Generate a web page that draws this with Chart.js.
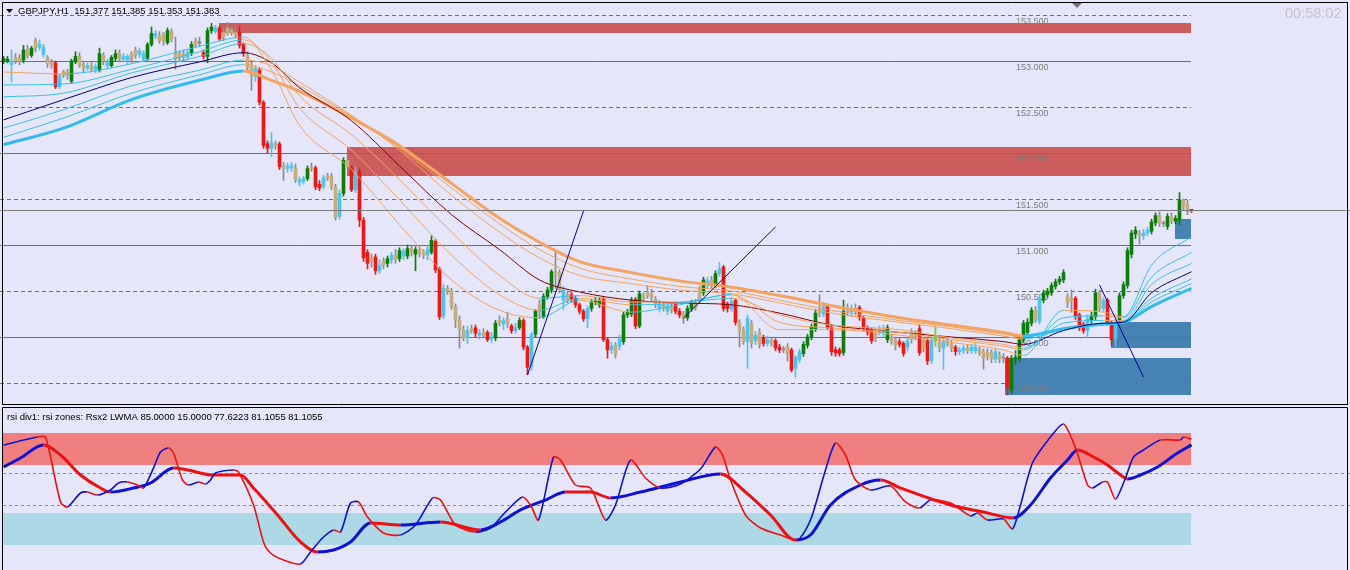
<!DOCTYPE html>
<html>
<head>
<meta charset="utf-8">
<script src="https://cdn.jsdelivr.net/npm/chart.js@4.4.1/dist/chart.umd.min.js"></script>
<style>
  html, body { margin: 0; padding: 0; background: #e6e6fa; }
  #wrap { position: relative; width: 1350px; height: 570px; overflow: hidden; }
  canvas { position: absolute; left: 0; }
  #main { top: 0; }
  #rsi { top: 406px; }
</style>
</head>
<body>
<div id="wrap">
  <canvas id="main" width="1350" height="406"></canvas>
  <canvas id="rsi" width="1350" height="164"></canvas>
</div>
<script>
// GBPJPY H1 candles: [open, high, low, close]
const candles = [
[152.99,153.05,152.97,153.03],[153.00,153.05,152.98,153.02],[152.96,153.12,152.77,153.00],[153.00,153.08,152.97,153.04],[153.03,153.07,152.96,153.00],
[153.01,153.17,152.98,153.12],[153.12,153.17,153.03,153.06],[153.06,153.16,153.04,153.14],[153.14,153.25,153.10,153.22],[153.18,153.23,153.12,153.15],
[153.15,153.18,153.04,153.07],[153.04,153.06,152.93,152.97],[152.98,153.02,152.92,152.96],[152.98,153.00,152.70,152.72],[152.72,152.86,152.70,152.84],
[152.84,152.90,152.82,152.88],[152.88,152.91,152.80,152.84],[152.78,153.02,152.76,153.00],[152.99,153.10,152.97,153.05],[153.05,153.09,152.93,152.95],
[152.96,153.00,152.88,152.92],[152.92,152.98,152.90,152.95],[152.95,152.99,152.88,152.91],[152.91,152.97,152.87,152.94],[152.90,153.14,152.88,153.08],
[153.06,153.09,152.96,153.00],[152.99,153.02,152.92,152.95],[152.95,153.06,152.93,153.04],[153.03,153.12,153.00,153.08],[153.08,153.12,152.99,153.02],
[153.02,153.08,152.99,153.05],[153.05,153.07,152.97,153.01],[153.01,153.10,152.98,153.07],[153.06,153.15,153.03,153.12],[153.11,153.14,153.04,153.07],
[153.08,153.11,152.99,153.02],[153.03,153.20,153.01,153.18],[153.18,153.37,153.16,153.30],[153.30,153.33,153.24,153.27],[153.27,153.32,153.19,153.22],
[153.22,153.31,153.17,153.29],[153.20,153.36,153.18,153.33],[153.32,153.35,153.21,153.24],[153.10,153.26,152.91,153.02],[153.03,153.11,153.00,153.08],
[153.08,153.12,153.00,153.04],[153.04,153.12,153.01,153.09],[153.09,153.21,153.06,153.18],[153.18,153.25,153.15,153.22],[153.21,153.26,153.16,153.19],
[153.09,153.12,153.02,153.05],[153.05,153.36,152.98,153.33],[153.33,153.41,153.30,153.37],[153.36,153.39,153.30,153.32],[153.36,153.38,153.22,153.24],
[153.26,153.36,153.22,153.31],[153.30,153.42,153.28,153.36],[153.34,153.38,153.28,153.31],[153.31,153.36,153.25,153.28],[153.31,153.38,153.14,153.17],
[153.18,153.20,153.05,153.08],[153.06,153.10,152.88,152.93],[152.96,152.99,152.68,152.83],[152.83,152.95,152.78,152.92],[152.90,152.93,152.52,152.55],
[152.55,152.57,152.05,152.08],[152.10,152.13,152.00,152.05],[152.05,152.22,151.96,152.11],[152.10,152.13,152.04,152.08],[152.10,152.12,151.82,151.85],
[151.86,151.90,151.70,151.83],[151.83,151.89,151.79,151.86],[151.86,151.90,151.80,151.84],[151.84,151.88,151.68,151.71],[151.71,151.74,151.64,151.68],
[151.69,151.75,151.66,151.72],[151.72,151.86,151.70,151.83],[151.83,151.89,151.80,151.84],[151.84,151.86,151.60,151.63],[151.66,151.70,151.59,151.62],
[151.64,151.76,151.61,151.73],[151.73,151.78,151.70,151.75],[151.75,151.78,151.60,151.63],[151.63,151.66,151.27,151.30],[151.31,151.60,151.28,151.56],
[151.56,151.95,151.53,151.92],[151.92,151.97,151.82,151.85],[151.84,151.86,151.58,151.60],[151.60,151.85,151.57,151.80],[151.80,151.83,151.20,151.27],
[151.27,151.30,150.82,150.86],[150.92,150.95,150.74,150.80],[150.82,150.90,150.76,150.87],[150.87,150.90,150.68,150.72],[150.72,150.84,150.69,150.78],
[150.78,150.86,150.74,150.83],[150.80,150.88,150.76,150.85],[150.84,150.92,150.80,150.89],[150.89,150.95,150.80,150.84],[150.85,150.97,150.82,150.94],
[150.93,150.96,150.84,150.88],[150.88,151.00,150.85,150.96],[150.96,151.00,150.88,150.92],[150.90,150.98,150.72,150.95],[150.94,150.98,150.87,150.91],
[150.92,150.95,150.85,150.89],[150.89,150.99,150.84,150.95],[150.92,151.10,150.90,151.05],[151.04,151.06,150.70,150.73],[150.74,150.76,150.19,150.22],
[150.23,150.57,150.20,150.53],[150.53,150.56,150.46,150.50],[150.50,150.53,150.30,150.33],[150.33,150.36,150.10,150.18],[150.18,150.23,149.88,150.08],
[150.08,150.12,149.96,149.99],[149.99,150.12,149.93,150.07],[150.07,150.13,150.04,150.09],[150.10,150.13,150.00,150.04],[150.04,150.08,149.98,150.02],
[150.02,150.09,149.99,150.05],[150.05,150.07,149.95,149.97],[149.98,150.05,149.94,150.00],[149.99,150.18,149.96,150.15],[150.15,150.23,150.12,150.18],
[150.18,150.21,150.08,150.14],[150.14,150.27,150.10,150.20],[150.12,150.14,150.04,150.07],[150.07,150.15,150.04,150.10],[150.10,150.21,150.08,150.18],
[150.18,150.20,149.86,149.89],[149.89,149.91,149.59,149.67],[149.68,150.05,149.64,150.03],[150.03,150.30,150.00,150.28],[150.28,150.40,150.20,150.35],
[150.22,150.47,150.20,150.44],[150.44,150.54,150.41,150.51],[150.51,150.73,150.48,150.71],[150.71,150.93,150.53,150.70],[150.70,150.73,150.48,150.51],
[150.51,150.55,150.30,150.40],[150.40,150.50,150.37,150.46],[150.46,150.49,150.38,150.41],[150.42,150.44,150.32,150.35],[150.35,150.37,150.25,150.28],
[150.28,150.30,150.17,150.20],[150.20,150.34,150.10,150.31],[150.31,150.41,150.28,150.38],[150.38,150.43,150.35,150.39],[150.35,150.43,150.32,150.40],
[150.42,150.44,149.95,149.97],[149.97,149.99,149.77,149.86],[149.86,149.94,149.82,149.90],[149.91,149.94,149.77,149.81],[149.90,150.02,149.86,149.98],
[149.95,150.27,149.92,150.24],[150.24,150.30,150.21,150.27],[150.25,150.43,150.22,150.40],[150.41,150.43,150.09,150.12],[150.12,150.50,150.10,150.47],
[150.45,150.48,150.38,150.42],[150.45,150.56,150.42,150.49],[150.47,150.52,150.39,150.43],[150.41,150.44,150.32,150.36],[150.36,150.40,150.27,150.31],
[150.31,150.38,150.28,150.34],[150.34,150.38,150.24,150.28],[150.29,150.37,150.26,150.33],[150.36,150.38,150.25,150.28],[150.28,150.31,150.21,150.24],
[150.25,150.28,150.15,150.20],[150.21,150.34,150.18,150.31],[150.31,150.40,150.28,150.37],[150.37,150.41,150.29,150.32],[150.40,150.55,150.38,150.51],
[150.48,150.65,150.45,150.62],[150.61,150.65,150.53,150.57],[150.57,150.66,150.53,150.62],[150.57,150.72,150.54,150.69],[150.69,150.81,150.66,150.74],
[150.76,150.78,150.28,150.31],[150.36,150.38,150.27,150.31],[150.31,150.43,150.28,150.39],[150.40,150.42,150.13,150.16],[150.16,150.19,149.89,150.07],
[150.08,150.11,149.92,149.95],[149.95,150.24,149.66,150.20],[150.15,150.18,149.88,149.93],[149.96,150.06,149.92,150.02],[150.05,150.09,149.88,149.92],
[149.99,150.02,149.90,149.93],[149.93,150.01,149.90,149.97],[149.97,150.00,149.90,149.94],[149.96,149.98,149.85,149.88],[149.89,149.92,149.83,149.86],
[149.86,149.90,149.83,149.87],[149.90,149.93,149.74,149.82],[149.86,149.88,149.62,149.64],[149.66,149.80,149.56,149.78],[149.75,149.87,149.72,149.84],
[149.82,149.95,149.79,149.92],[149.91,150.03,149.88,150.00],[150.00,150.14,149.97,150.11],[150.09,150.30,150.06,150.26],[150.26,150.46,150.22,150.30],
[150.25,150.38,150.22,150.33],[150.33,150.36,150.08,150.11],[150.11,150.13,149.80,149.84],[149.86,149.89,149.79,149.83],[149.86,149.88,149.79,149.82],
[149.83,150.40,149.80,150.28],[150.28,150.36,150.23,150.27],[150.27,150.35,150.22,150.31],[150.31,150.36,150.24,150.28],[150.32,150.34,150.18,150.21],
[150.21,150.23,150.07,150.10],[150.10,150.12,150.02,150.05],[150.08,150.10,149.93,149.96],[149.99,150.09,149.95,150.06],[150.05,150.12,150.02,150.08],
[150.08,150.13,150.00,150.04],[149.97,150.13,149.94,150.10],[150.00,150.03,149.92,149.96],[149.97,150.00,149.86,149.91],[149.95,149.98,149.89,149.92],
[149.93,149.95,149.79,149.82],[149.89,149.99,149.85,149.96],[149.97,150.09,149.93,150.06],[150.04,150.07,149.97,150.01],[150.09,150.13,149.80,149.83],
[149.87,150.00,149.84,149.97],[149.96,149.98,149.70,149.74],[149.74,149.99,149.71,149.96],[149.96,150.12,149.90,150.00],[149.96,149.99,149.84,149.88],
[149.88,149.98,149.65,149.95],[149.94,150.00,149.90,149.97],[149.93,149.96,149.84,149.88],[149.89,149.91,149.80,149.84],[149.84,149.89,149.81,149.86],
[149.85,149.91,149.82,149.88],[149.88,149.91,149.82,149.85],[149.85,149.92,149.82,149.89],[149.89,149.93,149.82,149.85],[149.86,149.89,149.80,149.83],
[149.84,149.87,149.65,149.77],[149.79,149.87,149.75,149.83],[149.83,149.86,149.72,149.76],[149.76,149.88,149.72,149.84],[149.80,149.84,149.72,149.76],
[149.77,149.82,149.72,149.78],[149.77,149.79,149.37,149.45],[149.42,149.80,149.38,149.77],[149.77,149.85,149.70,149.78],[149.76,150.00,149.73,149.97],
[149.97,150.18,149.94,150.15],[150.05,150.20,150.02,150.16],[150.15,150.32,150.12,150.29],[150.29,150.33,150.16,150.19],[150.17,150.46,150.14,150.42],
[150.40,150.51,150.37,150.48],[150.46,150.53,150.43,150.50],[150.48,150.59,150.45,150.56],[150.55,150.63,150.52,150.60],[150.60,150.66,150.57,150.63],
[150.62,150.73,150.59,150.70],[150.44,150.47,150.32,150.37],[150.40,150.51,150.27,150.42],[150.42,150.44,150.19,150.22],[150.24,150.26,150.07,150.10],
[150.14,150.16,150.04,150.07],[150.07,150.24,149.99,150.20],[150.18,150.27,150.15,150.23],[150.22,150.52,150.19,150.48],[150.48,150.51,150.28,150.31],
[150.31,150.43,150.28,150.40],[150.40,150.42,150.13,150.16],[150.16,150.18,149.91,149.97],[149.98,150.19,149.89,150.16],[150.15,150.48,150.12,150.45],
[150.45,150.60,150.42,150.57],[150.56,150.97,150.53,150.94],[150.90,151.16,150.86,151.13],[151.12,151.20,151.07,151.16],[151.12,151.16,151.01,151.10],
[151.10,151.17,151.06,151.13],[151.13,151.19,151.10,151.16],[151.15,151.28,151.12,151.25],[151.24,151.35,151.21,151.32],[151.32,151.36,151.20,151.24],
[151.24,151.26,151.20,151.23],[151.20,151.34,151.17,151.31],[151.31,151.35,151.23,151.26],[151.26,151.32,151.23,151.29],[151.27,151.57,151.22,151.49],
[151.49,151.50,151.38,151.42],[151.44,151.49,151.33,151.36],[151.377,151.385,151.353,151.383]
];

// candle colour class: G strong up, R strong down, T neutral, C light, L lime, Y doji
const kinds = (
  "GGCTTGTGTCCTTRCTTGGTTCTCGTCGGTCC" +
  "TTCCGGCTTGTTTTCGTYRGGCRTTTTRR" +
  "TTCRRRCTRTCCTCCGTRRCTTTCGTRCR" +
  "RRTRCTGCTGCGTGT" +
  "TCGRRCTTTTTCTRCTRCGTCTRCGRRCGTGGGTT" +
  "CTRRRRCGGGRRCTCGGGRGTTTTCTCTRRTGGTTGCTGCRRCRTTCTCTRCTRR" +
  "YTRCCGGGGTCRRRRGTCTRRRRTCCGTTRRCTTRTRCLTCTTRCCTCCTTTTCTY" +
  "RGGGGGGTCGGGGGGTTRRRCGGTCRRCGGGGGTCCGGTYGTGGTTR"
).split("");

// moving-average ribbon, sampled at these bar indices
const maIdx = [0, 15, 32, 49, 60, 67, 74, 87, 99, 112, 124, 134, 144, 157, 169, 182, 194, 207, 224, 237, 250, 255, 265, 275, 280, 287, 297];
const maFast1 = [152.88, 152.86, 152.97, 153.16, 153.26, 152.90, 152.30, 151.82, 151.22, 150.62, 150.29, 150.21, 150.40, 150.27, 150.35, 150.46, 150.08, 150.08, 150.02, 149.94, 149.86, 149.80, 150.29, 150.27, 150.22, 150.78, 151.09];
const maFast2 = [152.74, 152.75, 152.91, 153.10, 153.23, 152.99, 152.49, 152.03, 151.49, 150.89, 150.46, 150.29, 150.42, 150.35, 150.37, 150.46, 150.16, 150.10, 150.05, 149.97, 149.90, 149.86, 150.21, 150.23, 150.21, 150.65, 150.92];
const maFast3 = [152.61, 152.65, 152.87, 153.05, 153.19, 153.03, 152.62, 152.20, 151.71, 151.14, 150.67, 150.42, 150.45, 150.38, 150.38, 150.42, 150.24, 150.13, 150.08, 149.99, 149.92, 149.88, 150.15, 150.18, 150.18, 150.57, 150.80];
const maMid = [152.36, 152.58, 152.82, 152.99, 153.09, 152.98, 152.71, 152.35, 151.86, 151.33, 150.95, 150.62, 150.49, 150.40, 150.37, 150.35, 150.26, 150.13, 150.05, 150.00, 149.95, 149.92, 150.07, 150.15, 150.16, 150.48, 150.71];
const maSlow1 = [152.27, 152.47, 152.73, 152.90, 153.01, 152.95, 152.77, 152.41, 152.03, 151.54, 151.14, 150.86, 150.67, 150.58, 150.51, 150.47, 150.37, 150.26, 150.16, 150.09, 150.01, 149.98, 150.08, 150.13, 150.16, 150.42, 150.63];
const maSlow2 = [152.17, 152.38, 152.65, 152.85, 152.96, 152.88, 152.73, 152.40, 152.05, 151.62, 151.23, 150.95, 150.75, 150.63, 150.55, 150.50, 150.40, 150.29, 150.18, 150.11, 150.03, 150.00, 150.09, 150.14, 150.16, 150.38, 150.58];
const maTrend = [152.09, 152.27, 152.58, 152.79, 152.89, 152.79, 152.67, 152.38, 152.08, 151.67, 151.29, 151.03, 150.82, 150.70, 150.61, 150.54, 150.45, 150.34, 150.21, 150.13, 150.05, 150.01, 150.09, 150.14, 150.16, 150.33, 150.53];

const priceLevels = [153.5, 153.0, 152.5, 152.0, 151.5, 151.0, 150.5, 150.0, 149.5];
const lastPrice = 151.383;

// supply / demand boxes: bar index range and price range
const zones = [
  { from: 53.9, to: 296.9, top: 153.41, bottom: 153.30, side: "sell" },
  { from: 85.9, to: 296.9, top: 152.065, bottom: 151.75, side: "sell" },
  { from: 292.9, to: 296.9, top: 151.28, bottom: 151.07, side: "buy" },
  { from: 276.9, to: 296.9, top: 150.16, bottom: 149.88, side: "buy" },
  { from: 250.4, to: 296.9, top: 149.77, bottom: 149.37, side: "buy" }
];

// hand-drawn trend lines [idx, price, idx, price]
const trendLines = [
  [131, 149.587, 145, 151.370],
  [170, 150.206, 193, 151.196],
  [274, 150.565, 285, 149.565]
];

// rsi panel: [bar index, value]
const rsiFast = [
  [0,77.5],[8.5,82.5],[10.5,82.5],[14.25,41.9],[16,38.75],[19.25,47.5],[21,48.1],[23.5,46.25],[26.75,49.4],[28.75,53.75],
  [31,54.4],[33.5,52.5],[35,50.6],[37.5,63.1],[39.25,73.1],[41.25,75.6],[42.5,72.5],[44.75,55.6],[46.25,52.5],[48.75,54.4],
  [50.5,53.1],[51.75,55.6],[53,60],[57.5,61.9],[58.75,60.6],[62.5,40],[65,16.9],[66.75,10],[70,5.6],[74.25,3.1],
  [76.75,10.6],[79.75,19.4],[82.5,24.4],[84.25,23.1],[86.75,41.25],[88.75,41.9],[91,32.5],[95,22.5],[99.25,21.25],[103,27.5],
  [107.25,44.4],[109.25,43.1],[113,27.5],[118,23.1],[121.75,25.6],[125.5,35.6],[129.75,45],[131.75,40],[133.75,30.6],[137.5,70],
  [139.25,68.1],[143,52.5],[146.75,50.6],[150.5,30.6],[153,40],[156.75,68.1],[160.5,56.9],[164.25,50.6],[169.25,53.1],[174.25,62.5],
  [178,76.25],[179.75,71.25],[181.75,55.6],[185.5,33.75],[189.25,25.6],[194.25,21.25],[198.5,18.1],[201.75,30.6],[205.5,61.9],[208,78.75],
  [210.5,71.25],[213,55.6],[216.75,49.4],[221.75,51.9],[225.5,41.9],[229,38.1],[231.75,43.1],[236.75,41.25],[241.75,33.1],[243.5,35],
  [246,30.6],[250,31.25],[252.25,25],[254.25,40],[257.25,66.25],[261.75,82.5],[265,90.6],[268,75.6],[271,52.5],[272.25,50.6],
  [274.75,54.4],[276,54.4],[278,43.75],[280.5,56.9],[282.5,70],[285,74.4],[289.25,80.6],[294.25,80.6],[295,82.5],[297,81.1]
];
const rsiSlow = [
  [0,63.75],[4.25,69.4],[10,77.5],[14.25,71.25],[19.25,58.75],[24.25,50.6],[26.75,48.1],[32.5,50.6],[36.75,53.75],[42.5,63.1],
  [46,61.9],[52.5,58.75],[59.25,58.75],[62.5,50.6],[68.5,33.75],[74.25,16.9],[78.5,10.6],[82.5,11.9],[86.75,16.9],[91.75,28.75],
  [99.25,27.5],[109.25,29.4],[119.25,24.4],[124.25,29.4],[129.25,36.9],[135.5,43.1],[140.5,48.1],[146.75,48.1],[151.75,44.4],[159.25,48.1],
  [169.25,54.4],[179.25,59.4],[185.5,48.1],[191.75,33.75],[198,18.1],[201.75,21.25],[206.75,40],[214.25,52.5],[219.25,55.6],[224.25,50.6],
  [236.75,40],[245,35.6],[252.5,31.9],[256.75,40],[261.75,56.9],[266,68.1],[268.5,74.4],[272.5,70],[276,65],[279.25,58.75],
  [281,56.25],[284.25,58.75],[288.5,63.75],[293.5,72.5],[297,77.6]
];
const rsiLevels = [60, 40];
const rsiZones = [[65, 85, "hi"], [15, 35, "lo"]];

const BG = "#e6e6fa";
const bodyColor = { G: "#0a7d0a", R: "#f01616", T: "#c4ac80", C: "#4ec4ec", L: "#62d22e", Y: "#8c8c8c" };
const wickColor = { G: "#0a7d0a", R: "#f01616", T: "#8c8c8c", C: "#4ec4ec", L: "#62d22e", Y: "#8c8c8c" };

Chart.defaults.font.family = "'Liberation Sans', Arial, sans-serif";

function slopeColor(up, down) {
  return ctx => ctx.p1.parsed.y > ctx.p0.parsed.y ? up : down;
}

function maDataset(values, up, down, width) {
  return {
    type: "line",
    data: values.map((v, k) => ({ x: maIdx[k], y: v })),
    borderWidth: width,
    borderColor: down,
    segment: { borderColor: slopeColor(up, down) },
    pointRadius: 0,
    cubicInterpolationMode: "monotone",
    order: 0
  };
}

function drawFrame(ctx, w, top, bottom) {
  ctx.strokeStyle = "#000";
  ctx.lineWidth = 1;
  ctx.setLineDash([]);
  ctx.beginPath();
  ctx.moveTo(2.5, bottom); ctx.lineTo(2.5, top); ctx.lineTo(1347.5, top); ctx.lineTo(1347.5, bottom);
  ctx.stroke();
}

const mainDecor = {
  id: "mainDecor",
  beforeDraw(chart) {
    const { ctx, width, height } = chart;
    ctx.save();
    ctx.fillStyle = BG;
    ctx.fillRect(0, 0, width, height);
    ctx.restore();
  },
  beforeDatasetsDraw(chart) {
    const { ctx, scales: { x, y } } = chart;
    ctx.save();
    zones.forEach(z => {
      const x0 = Math.round(x.getPixelForValue(z.from));
      const x1 = Math.round(x.getPixelForValue(z.to));
      const y0 = Math.round(y.getPixelForValue(z.top));
      const y1 = Math.round(y.getPixelForValue(z.bottom));
      ctx.fillStyle = z.side === "sell" ? "#cd5c5c" : "#4682b4";
      ctx.fillRect(x0, y0, x1 - x0, y1 - y0);
    });
    const xEnd = Math.round(x.getPixelForValue(296.9));
    ctx.lineWidth = 1;
    ctx.font = "9px 'Liberation Sans', Arial, sans-serif";
    priceLevels.forEach(p => {
      const py = Math.round(y.getPixelForValue(p)) + 0.5;
      const whole = Math.abs(p - Math.round(p)) < 1e-6;
      ctx.strokeStyle = "#6f6f6f";
      ctx.setLineDash(whole ? [] : [4, 3]);
      ctx.beginPath(); ctx.moveTo(0, py); ctx.lineTo(xEnd, py); ctx.stroke();
      ctx.fillStyle = "#7e7e7e";
      ctx.fillText(p.toFixed(3), 1016, py + 8.5);
    });
    ctx.restore();
  },
  afterDatasetsDraw(chart) {
    const { ctx, width, scales: { x, y } } = chart;
    ctx.save();
    ctx.lineWidth = 1;
    ctx.setLineDash([]);
    // current bid
    const py = Math.round(y.getPixelForValue(lastPrice)) + 0.5;
    ctx.strokeStyle = "#7a7a7a";
    ctx.beginPath(); ctx.moveTo(0, py); ctx.lineTo(width, py); ctx.stroke();

    ctx.strokeStyle = "#0000a8";
    trendLines.forEach(t => {
      ctx.beginPath();
      ctx.moveTo(x.getPixelForValue(t[0]), y.getPixelForValue(t[1]));
      ctx.lineTo(x.getPixelForValue(t[2]), y.getPixelForValue(t[3]));
      ctx.stroke();
    });

    drawFrame(ctx, width, 2.5, 404.5);
    ctx.beginPath(); ctx.moveTo(2, 404.5); ctx.lineTo(1348, 404.5); ctx.stroke();

    // header
    ctx.fillStyle = "#000";
    ctx.beginPath(); ctx.moveTo(6, 9); ctx.lineTo(13, 9); ctx.lineTo(9.5, 13); ctx.closePath(); ctx.fill();
    ctx.font = "9.5px 'Liberation Sans', Arial, sans-serif";
    ctx.fillText("GBPJPY,H1  151.377 151.385 151.353 151.383", 18, 14);
    ctx.fillStyle = "#707070";
    ctx.beginPath(); ctx.moveTo(1072, 3); ctx.lineTo(1082, 3); ctx.lineTo(1077, 8); ctx.closePath(); ctx.fill();
    ctx.fillStyle = "#c4c4cc";
    ctx.font = "14.5px 'Liberation Sans', Arial, sans-serif";
    ctx.fillText("00:58:02", 1285, 18);
    ctx.restore();
  }
};

const rsiDecor = {
  id: "rsiDecor",
  beforeDraw(chart) {
    const { ctx, width, height } = chart;
    ctx.save();
    ctx.fillStyle = BG;
    ctx.fillRect(0, 0, width, height);
    ctx.restore();
  },
  beforeDatasetsDraw(chart) {
    const { ctx, width, scales: { x, y } } = chart;
    ctx.save();
    const x0 = 3;
    const x1 = Math.round(x.getPixelForValue(296.9));
    rsiZones.forEach(([lo, hi, kind]) => {
      const y0 = Math.round(y.getPixelForValue(hi));
      const y1 = Math.round(y.getPixelForValue(lo));
      ctx.fillStyle = kind === "hi" ? "#f08080" : "#add8e6";
      ctx.fillRect(x0, y0, x1 - x0, y1 - y0);
    });
    ctx.strokeStyle = "#3aa8d8";
    ctx.lineWidth = 1;
    ctx.setLineDash([3, 3]);
    rsiLevels.forEach(v => {
      const py = Math.round(y.getPixelForValue(v)) + 0.5;
      ctx.beginPath(); ctx.moveTo(3, py); ctx.lineTo(width, py); ctx.stroke();
    });
    ctx.restore();
  },
  afterDatasetsDraw(chart) {
    const { ctx, width, height } = chart;
    ctx.save();
    drawFrame(ctx, width, 1.5, height);
    ctx.fillStyle = "#000";
    ctx.font = "9.5px 'Liberation Sans', Arial, sans-serif";
    ctx.fillText("rsi div1: rsi zones: Rsx2 LWMA 85.0000 15.0000 77.6223 81.1055 81.1055", 7, 14);
    ctx.restore();
  }
};

const xRange = { type: "linear", min: -0.875, max: 336.625, display: false, offset: false };

new Chart(document.getElementById("main"), {
  type: "bar",
  data: {
    datasets: [
      maDataset(maFast1, "#38c0ee", "#f4a460", 1),
      maDataset(maFast2, "#38c0ee", "#f4a460", 1),
      maDataset(maFast3, "#38c0ee", "#f4a460", 1),
      maDataset(maMid, "#000080", "#800000", 1),
      maDataset(maSlow1, "#38c0ee", "#f4a460", 1),
      maDataset(maSlow2, "#38c0ee", "#f4a460", 1),
      maDataset(maTrend, "#33bbee", "#f4a460", 3),
      {
        data: candles.map((c, i) => ({ x: i, y: [c[0], c[3]] })),
        backgroundColor: kinds.map(k => bodyColor[k]),
        barThickness: 3,
        minBarLength: 1,
        grouped: false,
        order: 1
      },
      {
        data: candles.map((c, i) => ({ x: i, y: [c[2], c[1]] })),
        backgroundColor: kinds.map(k => wickColor[k]),
        barThickness: 1,
        grouped: false,
        order: 2
      }
    ]
  },
  options: {
    responsive: false,
    devicePixelRatio: 1,
    animation: false,
    events: [],
    layout: { padding: 0 },
    plugins: { legend: { display: false }, tooltip: { enabled: false } },
    scales: {
      x: xRange,
      y: { min: 149.25, max: 153.663, display: false }
    }
  },
  plugins: [mainDecor]
});

new Chart(document.getElementById("rsi"), {
  type: "line",
  data: {
    datasets: [
      {
        data: rsiFast.map(([i, v]) => ({ x: i, y: v })),
        borderWidth: 1.6,
        borderColor: "#ee1111",
        segment: { borderColor: slopeColor("#1010d8", "#ee1111") },
        pointRadius: 0,
        tension: 0.25
      },
      {
        data: rsiSlow.map(([i, v]) => ({ x: i, y: v })),
        borderWidth: 3,
        borderColor: "#ee1111",
        segment: { borderColor: slopeColor("#1010d8", "#ee1111") },
        pointRadius: 0,
        cubicInterpolationMode: "monotone"
      }
    ]
  },
  options: {
    responsive: false,
    devicePixelRatio: 1,
    animation: false,
    events: [],
    layout: { padding: 0 },
    plugins: { legend: { display: false }, tooltip: { enabled: false } },
    scales: {
      x: xRange,
      y: { min: -0.625, max: 101.875, display: false }
    }
  },
  plugins: [rsiDecor]
});
</script>
</body>
</html>
